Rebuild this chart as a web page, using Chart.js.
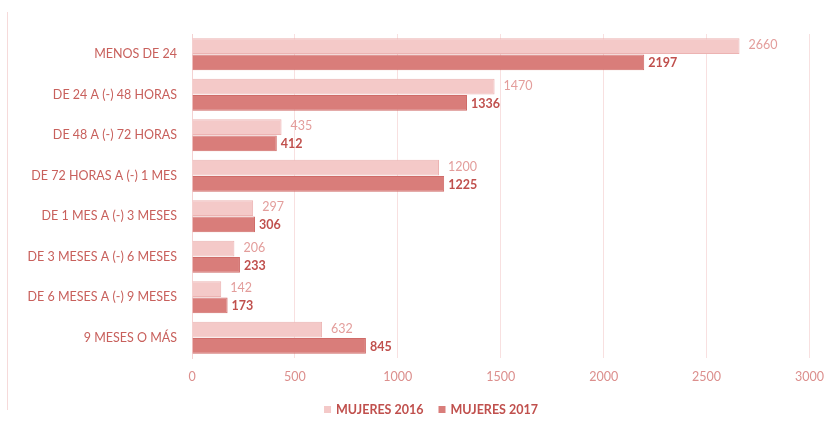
<!DOCTYPE html>
<html lang="es">

<head>
    <meta charset="UTF-8">
    <title>Mujeres 2016 / 2017</title>
    <style>
        body { margin: 0; background: #fff; }
        #wrap { position: relative; width: 835px; height: 436px; }
        #frame { position: absolute; left: 7px; top: 12px; width: 1px; height: 398px; background: #f6dada; }
    </style>
</head>

<body>

    <div id="wrap">
        <div id="frame"></div>
        <canvas id="myChart" width="835" height="436"></canvas>
    </div>

    <script src="https://cdn.jsdelivr.net/npm/chart.js"></script>
    <script>
        // datos
        const v_labels = ["MENOS DE 24", "DE 24 A (-) 48 HORAS", "DE 48 A (-) 72 HORAS", "DE 72 HORAS A (-) 1 MES",
            "DE 1 MES A (-) 3 MESES", "DE 3 MESES A (-) 6 MESES", "DE 6 MESES A (-) 9 MESES", "9 MESES O MÁS"];
        const v_2016 = [2660, 1470, 435, 1200, 297, 206, 142, 632];
        const v_2017 = [2197, 1336, 412, 1225, 306, 233, 173, 845];
        const v_ticks = [0, 500, 1000, 1500, 2000, 2500, 3000];

        const v_font = "Lato, 'Open Sans', sans-serif";

        // etiquetas al final de cada barra
        const p_labels = {
            id: "p_labels",
            afterDatasetsDraw(chart) {
                const ctx = chart.ctx;
                ctx.save();
                ctx.textBaseline = "middle";
                ctx.textAlign = "left";
                chart.data.datasets.forEach((ds, i) => {
                    const meta = chart.getDatasetMeta(i);
                    meta.data.forEach((bar, k) => {
                        if (i == 0) {
                            ctx.font = "12.5px " + v_font;
                            ctx.fillStyle = "#e39d9b";
                            ctx.fillText(ds.data[k], bar.x + 9, bar.y - 1);
                        } else {
                            ctx.font = "bold 12.5px " + v_font;
                            ctx.fillStyle = "#c0504d";
                            ctx.fillText(ds.data[k], bar.x + 4, bar.y + 1);
                        }
                    });
                });
                ctx.restore();
            }
        };

        // leyenda abajo (dibujada a mano para controlar el espacio)
        const p_legend = {
            id: "p_legend",
            afterDraw(chart) {
                const ctx = chart.ctx;
                const y = 410;
                ctx.save();
                ctx.font = "bold 12.5px " + v_font;
                ctx.textBaseline = "middle";
                ctx.textAlign = "left";
                let v_items = chart.data.datasets.map(ds => ({ ds: ds, w: ctx.measureText(ds.label).width }));
                let v_total = 0;
                v_items.forEach(it => { v_total += 7 + 5 + it.w; });
                v_total += 15 * (v_items.length - 1);
                let x = 431 - v_total / 2;
                v_items.forEach(it => {
                    ctx.fillStyle = it.ds.backgroundColor;
                    ctx.fillRect(x, y - 4, 7, 7);
                    ctx.fillStyle = "#c0504d";
                    ctx.fillText(it.ds.label, x + 12, y);
                    x += 12 + it.w + 15;
                });
                ctx.restore();
            }
        };

        const ctx = document.querySelector("#myChart");

        new Chart(ctx, {
            type: "bar",
            data: {
                labels: v_labels,
                datasets: [
                    {
                        label: "MUJERES 2016",
                        data: v_2016,
                        backgroundColor: "#f4c9c8",
                        borderColor: "#ecb3b2",
                        borderWidth: 1,
                        categoryPercentage: 0.8,
                        barPercentage: 0.98
                    },
                    {
                        label: "MUJERES 2017",
                        data: v_2017,
                        backgroundColor: "#d97d7a",
                        borderColor: "#cf6b68",
                        borderWidth: 1,
                        categoryPercentage: 0.8,
                        barPercentage: 0.98
                    }
                ]
            },
            options: {
                indexAxis: "y",
                responsive: false,
                animation: false,
                layout: { padding: { top: 34, right: 14, bottom: 41, left: 0 } },
                scales: {
                    x: {
                        min: 0,
                        max: 3000,
                        afterBuildTicks: (scale) => { scale.ticks = v_ticks.map(v => ({ value: v })); },
                        grid: { color: "#f8e0e0", drawTicks: false },
                        border: { display: false },
                        ticks: {
                            color: "#dc8f8d",
                            font: { family: v_font, size: 12.5 },
                            padding: 11,
                            callback: (v) => String(v)
                        }
                    },
                    y: {
                        afterFit: (scale) => { scale.width = 192; },
                        grid: { display: false },
                        border: { color: "#f4d2d2" },
                        ticks: { color: "#c8605c", font: { family: v_font, size: 12.5 }, padding: 7 }
                    }
                },
                plugins: {
                    legend: { display: false },
                    tooltip: { enabled: false }
                }
            },
            plugins: [p_labels, p_legend]
        });
    </script>

</body>

</html>
